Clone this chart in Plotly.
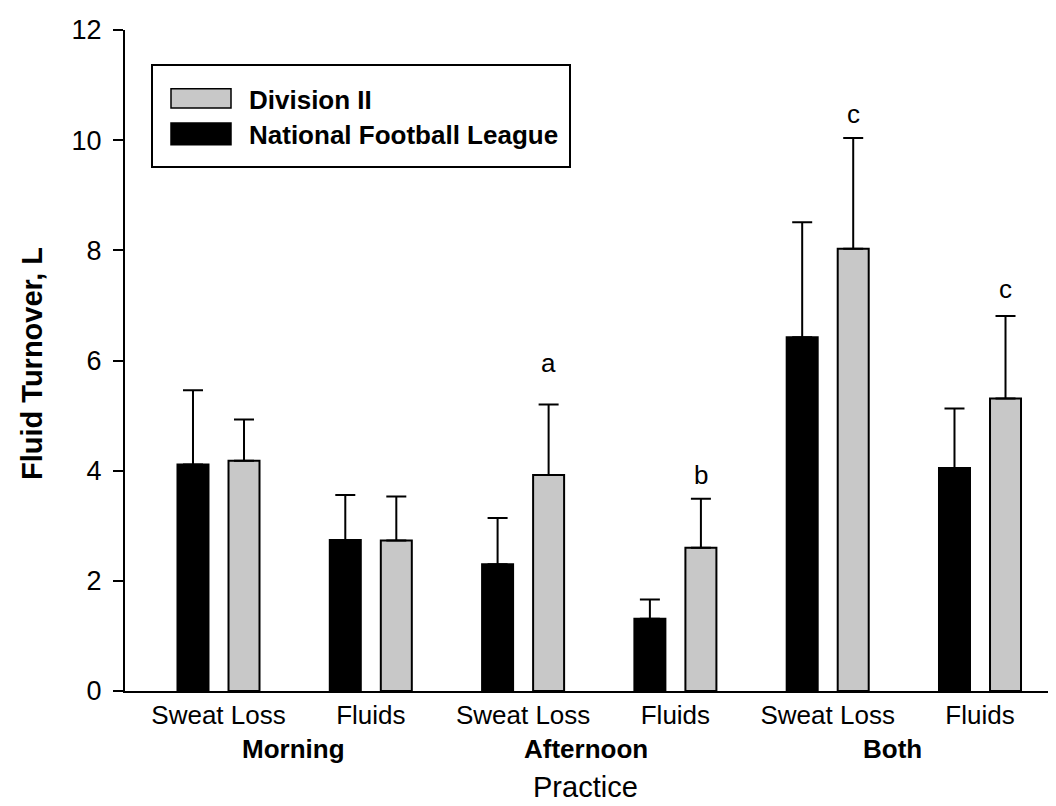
import plotly.graph_objects as go

# ---- data ----
subcats = ["Sweat Loss", "Fluids", "Sweat Loss", "Fluids", "Sweat Loss", "Fluids"]
groups = ["Morning", "Afternoon", "Both"]
nfl_vals = [4.11, 2.74, 2.30, 1.31, 6.42, 4.05]
nfl_err = [1.35, 0.82, 0.84, 0.35, 2.09, 1.08]
d2_vals = [4.18, 2.73, 3.92, 2.60, 8.03, 5.31]
d2_err = [0.75, 0.80, 1.28, 0.89, 2.01, 1.50]
sig_letters = ["", "", "a", "b", "c", "c"]
sig_y = [None, None, 5.95, 3.93, 10.48, 7.29]
series_names = ["Division II", "National Football League"]

# ---- layout constants ----
W, H = 1056, 806
L, R, T, B = 117, 0, 22, 123
FONT = "Liberation Sans, Arial, Helvetica, sans-serif"
GRAY = "rgb(200,200,200)"
OFF = 0.1675
BW = 0.2035

pw = W - L - R
ph = H - T - B


def px(xpix):
    return (xpix - L) / pw


def py(ypix):
    return (H - B - ypix) / ph


xs = list(range(len(subcats)))

fig = go.Figure()
fig.add_trace(go.Bar(
    x=[i - OFF for i in xs], y=nfl_vals, width=BW,
    marker=dict(color="black", line=dict(color="black", width=2)),
    error_y=dict(type="data", symmetric=False, array=nfl_err,
                 arrayminus=[0] * len(nfl_err), color="black",
                 thickness=2, width=10),
    name=series_names[1], showlegend=False,
))
fig.add_trace(go.Bar(
    x=[i + OFF for i in xs], y=d2_vals, width=BW,
    marker=dict(color=GRAY, line=dict(color="black", width=2)),
    error_y=dict(type="data", symmetric=False, array=d2_err,
                 arrayminus=[0] * len(d2_err), color="black",
                 thickness=2, width=10),
    name=series_names[0], showlegend=False,
))

annotations = []
# significance letters
for i, (lt, yv) in enumerate(zip(sig_letters, sig_y)):
    if lt:
        annotations.append(dict(x=i + OFF, y=yv, xref="x", yref="y", text=lt,
                                showarrow=False, yanchor="middle",
                                font=dict(family=FONT, size=26, color="black")))
# group labels
group_x = [0.49, 2.413, 4.426]
for gx, g in zip(group_x, groups):
    annotations.append(dict(x=gx, y=py(741), xref="x", yref="paper",
                            text="<b>%s</b>" % g, showarrow=False,
                            yanchor="middle", xanchor="center",
                            font=dict(family=FONT, size=26, color="black")))
# x axis title
annotations.append(dict(x=2.407, y=py(797), xref="x", yref="paper",
                        text="Practice", showarrow=False, yanchor="bottom",
                        font=dict(family=FONT, size=29, color="black")))
# y axis title
annotations.append(dict(x=px(24), y=py(356), xref="paper", yref="paper",
                        text="<b>Fluid Turnover, L</b>", textangle=-90,
                        showarrow=False, xanchor="center", yanchor="middle",
                        font=dict(family=FONT, size=29, color="black")))
# legend texts
annotations.append(dict(x=px(239), y=py(91.7), xref="paper", yref="paper",
                        text="<b>%s</b>" % series_names[0], showarrow=False,
                        xanchor="left", yanchor="middle",
                        font=dict(family=FONT, size=26, color="black")))
annotations.append(dict(x=px(239), y=py(126.7), xref="paper", yref="paper",
                        text="<b>%s</b>" % series_names[1], showarrow=False,
                        xanchor="left", yanchor="middle",
                        font=dict(family=FONT, size=26, color="black")))

shapes = [
    dict(type="rect", xref="paper", yref="paper", x0=px(144), x1=px(562),
         y0=py(159), y1=py(57), line=dict(color="black", width=2),
         fillcolor="white"),
    dict(type="rect", xref="paper", yref="paper", x0=px(163), x1=px(223),
         y0=py(100), y1=py(80.7), line=dict(color="black", width=1.5),
         fillcolor=GRAY),
    dict(type="rect", xref="paper", yref="paper", x0=px(163), x1=px(223),
         y0=py(136.7), y1=py(115), line=dict(color="black", width=1.5),
         fillcolor="black"),
]

fig.update_layout(
    width=W, height=H,
    margin=dict(l=L, r=R, t=T, b=B, pad=0),
    plot_bgcolor="white", paper_bgcolor="white",
    barmode="overlay",
    annotations=annotations, shapes=shapes,
    font=dict(family=FONT, size=26, color="black"),
)
fig.update_xaxes(
    range=[(117 - 210.5) / 152.3, (1056 - 210.5) / 152.3],
    tickvals=xs, ticktext=subcats, ticks="",
    showline=True, linecolor="black", linewidth=2,
    showgrid=False, zeroline=False,
    tickfont=dict(family=FONT, size=26, color="black"),
)
fig.update_yaxes(
    range=[0, 12], tickvals=list(range(0, 13, 2)),
    ticks="outside", ticklen=10, tickwidth=2, tickcolor="black",
    showline=True, linecolor="black", linewidth=2,
    showgrid=False, zeroline=False, ticklabelstandoff=6,
    tickfont=dict(family=FONT, size=27, color="black"),
)

fig.write_html("out.html")
